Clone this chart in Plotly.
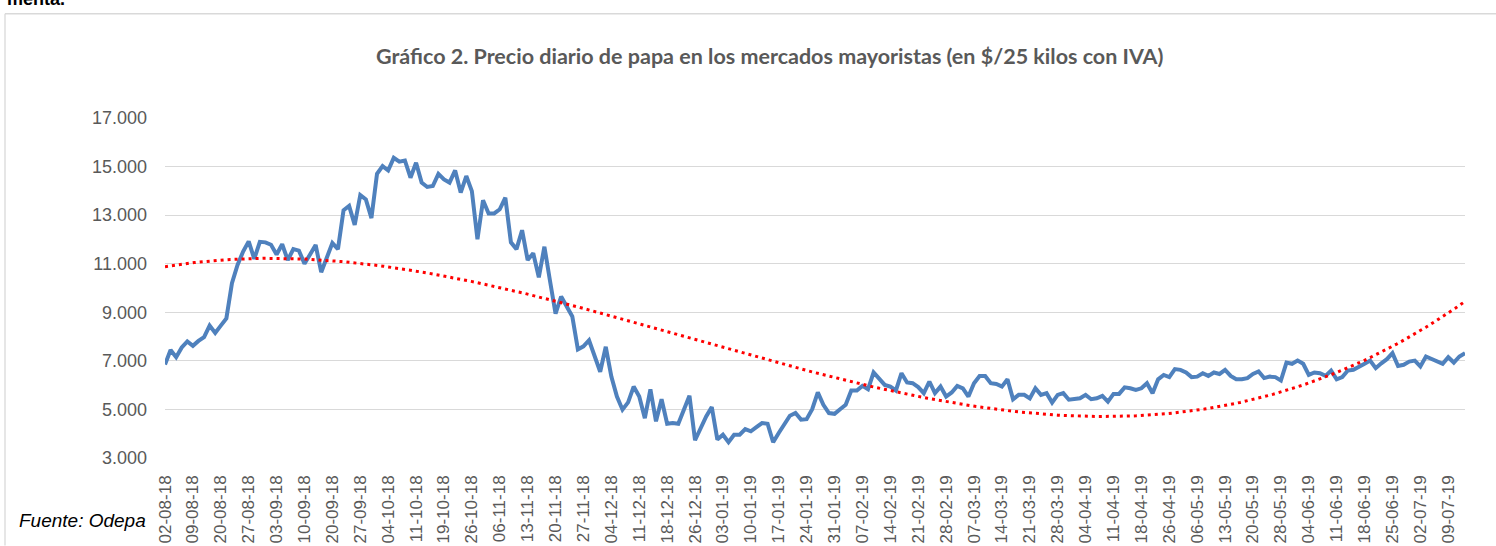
import numpy as np
import plotly.graph_objects as go

# Tick labels (one every 5 trading days)
tick_labels = [
    "02-08-18", "09-08-18", "20-08-18", "27-08-18", "03-09-18", "10-09-18",
    "20-09-18", "27-09-18", "04-10-18", "11-10-18", "19-10-18", "26-10-18",
    "06-11-18", "13-11-18", "20-11-18", "27-11-18", "04-12-18", "11-12-18",
    "18-12-18", "26-12-18", "03-01-19", "10-01-19", "17-01-19", "24-01-19",
    "31-01-19", "07-02-19", "14-02-19", "21-02-19", "28-02-19", "07-03-19",
    "14-03-19", "21-03-19", "28-03-19", "04-04-19", "11-04-19", "18-04-19",
    "26-04-19", "06-05-19", "13-05-19", "20-05-19", "28-05-19", "04-06-19",
    "11-06-19", "18-06-19", "25-06-19", "02-07-19", "09-07-19",
]

# Daily price ($/25 kg with IVA)
precio_ago_oct = [
    6850, 7450, 7150, 7550, 7800, 7620, 7820, 7980, 8450, 8150,
    8450, 8750, 10200, 10950, 11500, 11920, 11200, 11900, 11880, 11780,
    11380, 11800, 11150, 11600, 11540, 11000, 11380, 11770, 10650, 11250,
    11850, 11600, 13200, 13380, 12600, 13830, 13650, 12880, 14700, 15020,
    14840, 15360, 15200, 15250, 14540, 15160, 14340, 14160, 14200, 14700,
    14470, 14340, 14840, 13930, 14610, 13990, 12010, 13610, 13070, 13070,
]
precio_nov_ene = [
    13240, 13720, 11880, 11600, 12380, 11150, 11430, 10440, 11700, 10300,
    8940, 9650, 9210, 8830, 7470, 7600, 7850, 7170, 6550, 7580,
    6350, 5530, 4990, 5290, 5940, 5530, 4640, 5830, 4510, 5420,
    4410, 4440, 4410, 4990, 5560, 3730, 4230, 4710, 5100, 3760,
    3960, 3650, 3960, 3960, 4190, 4100, 4270, 4440, 4410, 3650,
    4030, 4410, 4740, 4850, 4580, 4600, 5010, 5700, 5190, 4850,
]
precio_feb_abr = [
    4820, 5010, 5190, 5780, 5780, 5970, 5830, 6520, 6280, 6010,
    5940, 5780, 6490, 6110, 6080, 5920, 5670, 6150, 5670, 5940,
    5530, 5700, 5970, 5870, 5530, 6080, 6380, 6380, 6080, 6050,
    5940, 6240, 5420, 5600, 5600, 5450, 5870, 5600, 5670, 5280,
    5600, 5670, 5400, 5420, 5460, 5600, 5420, 5460, 5560, 5320,
    5640, 5640, 5910, 5870, 5800, 5870, 6080, 5670, 6240, 6420,
]
precio_abr_jul = [
    6330, 6660, 6630, 6520, 6330, 6350, 6490, 6380, 6520, 6460,
    6630, 6380, 6240, 6240, 6290, 6460, 6560, 6290, 6350, 6330,
    6190, 6930, 6880, 7010, 6880, 6420, 6520, 6490, 6380, 6600,
    6240, 6330, 6600, 6630, 6740, 6880, 7010, 6700, 6900, 7070,
    7320, 6790, 6840, 6970, 7010, 6770, 7180, 7070, 6970, 6880,
    7150, 6930, 7180, 7320,
]
precio = precio_ago_oct + precio_nov_ene + precio_feb_abr + precio_abr_jul

n = len(precio)
x = np.arange(n)
tick_pos = list(range(0, 5 * len(tick_labels), 5))

# Polynomial (order 3) trend line, as in the original spreadsheet
coef = np.polyfit(x, precio, 3)
xt = np.linspace(0, n - 1, 400)
yt = np.polyval(coef, xt)

fig = go.Figure()
fig.add_trace(go.Scatter(
    x=x, y=precio, mode="lines",
    line=dict(color="#4F81BD", width=4),
    hoverinfo="skip", showlegend=False,
))
fig.add_trace(go.Scatter(
    x=xt, y=yt, mode="lines",
    line=dict(color="#FF0000", width=3, dash="3px,4px"),
    hoverinfo="skip", showlegend=False,
))

L, R, T, B = 165, 31, 117.5, 87.7
W, H = 1496, 546
pw = W - L - R
ph = H - T - B

def px_x(p):
    return (p - L) / pw

def px_y(p):
    return (H - B - p) / ph

fig.update_layout(
    width=W, height=H,
    margin=dict(l=L, r=R, t=T, b=B, pad=0, autoexpand=False),
    paper_bgcolor="white", plot_bgcolor="white",
    separators=",.",
    font=dict(family="Liberation Sans, Arial", color="#595959"),
    xaxis=dict(
        range=[0, n - 1], tickvals=tick_pos, ticktext=tick_labels,
        tickangle=-90, tickfont=dict(size=17, color="#595959"),
        showgrid=False, zeroline=False, showline=False, ticks="",
        ticklabelstandoff=13, automargin=False,
    ),
    yaxis=dict(
        range=[3000, 17000], tickvals=[3000, 5000, 7000, 9000, 11000, 13000, 15000, 17000],
        tickformat=",d", tickfont=dict(size=18, color="#595959"),
        showgrid=True, gridcolor="#D9D9D9", gridwidth=1.3,
        zeroline=False, showline=False, ticks="", ticklabelstandoff=17,
        automargin=False,
    ),
    annotations=[
        dict(text="<b>Gráfico 2. Precio diario de papa en los mercados mayoristas (en $/25 kilos con IVA)</b>",
             xref="paper", yref="paper", x=px_x(770), y=px_y(55), xanchor="center", yanchor="middle",
             showarrow=False, font=dict(family="Lato, Carlito, Liberation Sans", size=21.5, color="#595959")),
        dict(text="<i>Fuente: Odepa</i>", xref="paper", yref="paper",
             x=px_x(17), y=px_y(521), xanchor="left", yanchor="middle",
             showarrow=False, font=dict(family="Liberation Sans, Arial", size=19, color="#000000")),
        dict(text="<b>menta.</b>", xref="paper", yref="paper",
             x=px_x(5), y=px_y(10), xanchor="left", yanchor="bottom",
             showarrow=False, font=dict(family="Liberation Sans, Arial", size=18, color="#000000")),
    ],
    shapes=[
        dict(type="line", xref="paper", yref="paper", x0=px_x(5), x1=px_x(1496), y0=px_y(13), y1=px_y(13),
             line=dict(color="#D9D9D9", width=1.3)),
        dict(type="line", xref="paper", yref="paper", x0=px_x(5), x1=px_x(5), y0=px_y(13), y1=px_y(546),
             line=dict(color="#D9D9D9", width=1.3)),
    ],
)

fig.write_html(
    "out.html",
    config={"displayModeBar": False},
    post_script="document.body.style.margin='0';document.body.style.overflow='hidden';",
)
